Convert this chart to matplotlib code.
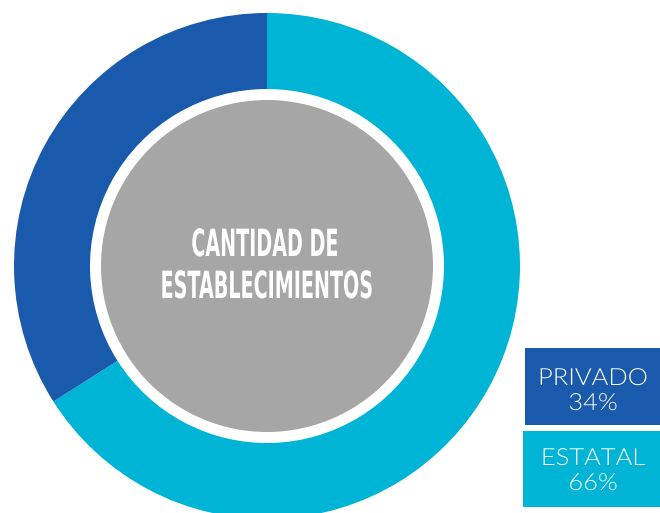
import matplotlib.pyplot as plt
from matplotlib.patches import Circle, Rectangle
from matplotlib import patheffects
from matplotlib.transforms import Affine2D

labels = ["ESTATAL", "PRIVADO"]
values = [66, 34]
colors = ["#00b4d5", "#1a5aad"]
center_lines = ["CANTIDAD DE", "ESTABLECIMIENTOS"]

W, H = 660, 513
fig = plt.figure(figsize=(W / 100, H / 100), dpi=100)
ax = fig.add_axes([0, 0, 1, 1])

cx, cy = 267, H - 266   # donut center (y measured upward)
r_out, r_in = 253, 177

ax.pie(values, colors=colors, startangle=90, counterclock=False,
       center=(cx, cy), radius=r_out,
       wedgeprops=dict(width=r_out - r_in, linewidth=0))

ax.set_xlim(0, W)
ax.set_ylim(0, H)
ax.set_aspect("equal")
ax.axis("off")


class SqueezeX(patheffects.AbstractPathEffect):
    """scale glyphs horizontally around a data x position"""
    def __init__(self, sx, xc):
        super().__init__()
        self.sx = sx
        self.xc = xc

    def draw_path(self, renderer, gc, tpath, affine, rgbFace=None):
        x0 = ax.transData.transform((self.xc, 0))[0]
        t = affine + Affine2D().translate(-x0, 0).scale(self.sx, 1).translate(x0, 0)
        renderer.draw_path(gc, tpath, t, rgbFace)


# grey disc in the middle
ax.add_patch(Circle((cx, cy), 166, facecolor="#a6a6a6", edgecolor="none"))
for line, base, xc in zip(center_lines, [256, 298], [265, 267]):
    ax.text(xc, H - base, line, ha="center", va="baseline", color="white",
            fontsize=27, fontweight="bold", family="DejaVu Sans",
            path_effects=[SqueezeX(0.51, xc)])

# legend boxes (x0, top, x1, bottom in image pixels)
boxes = [(525, 348, 660, 425), (523, 431, 660, 507)]
baselines = [(385, 410), (465, 490)]
for (x0, top, x1, bot), (b1, b2), lab, val, col in zip(boxes, baselines, labels[::-1],
                                                       values[::-1], colors[::-1]):
    ax.add_patch(Rectangle((x0, H - bot), x1 - x0, bot - top, facecolor=col, edgecolor="none"))
    for txt, b in [(lab, b1), (f"{val}%", b2)]:
        ax.text(593, H - b, txt, ha="center", va="baseline", color="white",
                fontsize=17, family="Lato", fontweight=300,
                path_effects=[SqueezeX(1.08, 593)])

fig.savefig("out.png", dpi=100)
